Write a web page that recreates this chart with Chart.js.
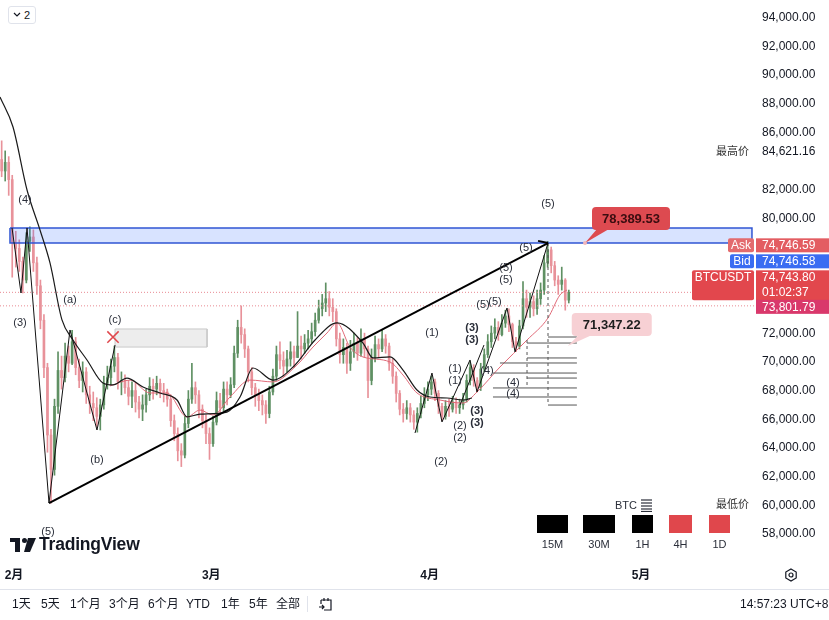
<!DOCTYPE html>
<html>
<head>
<meta charset="utf-8">
<script src="https://cdn.jsdelivr.net/npm/chart.js@4.4.1/dist/chart.umd.min.js"></script>
<style>
  html, body { margin: 0; padding: 0; background: #fff; }
  #wrap { position: relative; width: 829px; height: 620px; overflow: hidden;
          font-family: "Liberation Sans", "Noto Sans CJK SC", Arial, sans-serif; color: #131722; }
  #wrap canvas { position: absolute; left: 0; top: 0; }
  .abs { position: absolute; white-space: nowrap; }
  .tb { position: absolute; top: 597px; font-size: 12px; line-height: 14px; color: #131722; }
  .lg { position: absolute; top: 515px; height: 18px; }
  .lgt { position: absolute; top: 538px; font-size: 11px; line-height: 13px; color: #2a2e39; text-align: center; }
</style>
</head>
<body>
<div id="wrap">
  <canvas id="myChart" width="829" height="620"></canvas>

  <!-- top-left collapse button -->
  <div class="abs" style="left:8px;top:6px;width:26px;height:16px;border:1px solid #e0e3eb;border-radius:3px;background:#fff;">
    <svg class="abs" style="left:4px;top:5px" width="8" height="6"><polyline points="1,1 4,4 7,1" fill="none" stroke="#131722" stroke-width="1.2"/></svg>
    <span class="abs" style="left:15px;top:1px;font-size:11px;line-height:14px;">2</span>
  </div>

  <!-- logo -->
  <svg class="abs" style="left:10px;top:537px" width="28" height="16">
    <rect x="0" y="1" width="10" height="4" fill="#131722"/>
    <rect x="5" y="1" width="5" height="14" fill="#131722"/>
    <circle cx="14.5" cy="3.5" r="2.5" fill="#131722"/>
    <polygon points="18,1 26,1 20,15 14,15" fill="#131722"/>
  </svg>
  <div class="abs" style="left:39px;top:533px;font-size:17.5px;font-weight:bold;line-height:22px;letter-spacing:-0.2px;">TradingView</div>

  <!-- timeframe legend -->
  <div class="abs" style="left:615px;top:499px;font-size:11px;line-height:13px;color:#2a2e39;">BTC</div>
  <svg class="abs" style="left:641px;top:499px" width="11" height="13">
    <g stroke="#2a2e39" stroke-width="1.2"><line x1="0" y1="1" x2="11" y2="1"/><line x1="0" y1="4" x2="11" y2="4"/><line x1="0" y1="7" x2="11" y2="7"/><line x1="0" y1="10" x2="11" y2="10"/><line x1="0" y1="12.5" x2="11" y2="12.5"/></g>
  </svg>
  <div class="lg" style="left:537px;width:31px;background:#000;"></div>
  <div class="lg" style="left:583px;width:32px;background:#000;"></div>
  <div class="lg" style="left:632px;width:21px;background:#000;"></div>
  <div class="lg" style="left:669px;width:23px;background:#e0474c;"></div>
  <div class="lg" style="left:709px;width:21px;background:#e0474c;"></div>
  <div class="lgt" style="left:537px;width:31px;">15M</div>
  <div class="lgt" style="left:583px;width:32px;">30M</div>
  <div class="lgt" style="left:628px;width:29px;">1H</div>
  <div class="lgt" style="left:666px;width:29px;">4H</div>
  <div class="lgt" style="left:705px;width:29px;">1D</div>

  <!-- gear -->
  <svg class="abs" style="left:784px;top:568px" width="14" height="14">
    <polygon points="7,1 12.2,4 12.2,10 7,13 1.8,10 1.8,4" fill="none" stroke="#131722" stroke-width="1.2"/>
    <circle cx="7" cy="7" r="2" fill="none" stroke="#131722" stroke-width="1.2"/>
  </svg>

  <!-- bottom toolbar -->
  <div class="abs" style="left:0;top:589px;width:829px;height:1px;background:#e0e3eb;"></div>
  <span class="tb" style="left:12px">1天</span>
  <span class="tb" style="left:41px">5天</span>
  <span class="tb" style="left:70px">1个月</span>
  <span class="tb" style="left:109px">3个月</span>
  <span class="tb" style="left:148px">6个月</span>
  <span class="tb" style="left:186px">YTD</span>
  <span class="tb" style="left:221px">1年</span>
  <span class="tb" style="left:249px">5年</span>
  <span class="tb" style="left:276px">全部</span>
  <div class="abs" style="left:307px;top:596px;width:1px;height:16px;background:#e0e3eb;"></div>
  <svg class="abs" style="left:318px;top:596px" width="16" height="16">
    <path d="M3 4 H13 V14 H6" fill="none" stroke="#131722" stroke-width="1.2"/>
    <path d="M3 4 V8" fill="none" stroke="#131722" stroke-width="1.2"/>
    <line x1="6" y1="2" x2="6" y2="5" stroke="#131722" stroke-width="1.2"/>
    <line x1="10" y1="2" x2="10" y2="5" stroke="#131722" stroke-width="1.2"/>
    <path d="M1 11 H6 M4 9 L6 11 L4 13" fill="none" stroke="#131722" stroke-width="1.2"/>
  </svg>
  <span class="tb" style="left:740px">14:57:23 UTC+8</span>
</div>

<script>
// time axis: days counted from 1 Feb (day 0); 12h candles from 30 Jan
const firstCandleDay = -2;
const candleStep = 0.5;
const firstOpen = 84000;

const closes = [
  83200, 83800, 82600, 78200, 77800, 76900, 75600, 78300, 78600, 76800,
  75200, 72800, 69500, 64800, 62400, 66800, 69300, 68800, 70300, 69800,
  71300, 69500, 68600, 69200, 67600, 67000, 66700, 66100, 66900, 68400,
  68800, 69600, 70200, 68500, 68600, 68100, 67500, 67900, 67100, 66600,
  66900, 67600, 68200, 68000, 68400, 67900, 67800, 67300, 65800, 64900,
  63700, 63400, 65600, 67300, 68100, 67600, 66600, 65800, 64900, 64200,
  65700, 67200, 66700, 68000, 67600, 68300, 70500, 72300, 71800, 70800,
  69200, 68100, 67600, 67200, 66900, 66300, 67800, 68900, 70400, 70000,
  69600, 70100, 70600, 70200, 71000, 70800, 71200, 71500, 72000, 72800,
  73600, 74000, 74300, 73700, 73400, 71500, 70400, 70900, 69800, 70600,
  71200, 70500, 71500, 70800, 68600, 70200, 71100, 70800, 71500, 71000,
  69800, 68900, 67700, 66600, 66300, 66700, 66200, 65700, 66300, 67000,
  67600, 68000, 68500, 67700, 66800, 66100, 66800, 66600, 67100, 66700,
  66900, 67300, 68600, 69500, 68600, 68100, 69400, 70400, 71300, 71900,
  72300, 71800, 72600, 73100, 72500, 71300, 71000, 72400, 74300, 73700,
  74100, 73600, 74300, 74900, 76800, 77700, 76600, 75600, 75300, 75600,
  74200, 74744
];
const highs = [
  85300, 84600, 84200, 82900, 79000, 78400, 77200, 78900, 79300, 79100,
  77200, 75600, 73200, 69800, 65200, 67300, 70600, 70300, 71200, 71000,
  72100, 71600, 70100, 69900, 69500, 68200, 67800, 67400, 67300, 68900,
  69600, 70100, 71000, 70500, 69200, 69000, 68600, 68500, 68400, 67500,
  67600, 68000, 68800, 68700, 68900, 68700, 68400, 68000, 67600, 66200,
  65300, 64200, 66100, 67900, 69800, 68500, 67900, 66900, 66200, 65300,
  66100, 67800, 67700, 68500, 68500, 68800, 71000, 72800, 73800, 72200,
  71000, 69500, 68400, 68000, 67600, 67200, 68200, 69400, 71000, 71300,
  70600, 70700, 71300, 71000, 73400, 71700, 71800, 72100, 72600, 73300,
  74200, 74600, 75400, 74800, 74300, 73600, 71900, 71500, 71200, 71400,
  71900, 71600, 72200, 71900, 71000, 70800, 71700, 71500, 72100, 71800,
  71200, 70100, 69200, 67900, 67000, 67200, 67000, 66500, 66700, 67500,
  68100, 68500, 68900, 68700, 67900, 67000, 67200, 67300, 67500, 67400,
  67300, 67700, 69000, 69900, 69700, 68800, 69800, 70800, 71800, 72400,
  72900, 72700, 73200, 73500, 73600, 72600, 71600, 72800, 75500, 74900,
  74700, 74500, 74900, 75400, 77300, 78300, 77900, 76900, 75900, 76500,
  75700, 74900
];
const lows = [
  82800, 82500, 81500, 75800, 76500, 76200, 74700, 75400, 77600, 76200,
  74600, 72200, 68800, 63600, 60050, 62000, 66300, 68000, 68500, 69200,
  69700, 69000, 68100, 67800, 67000, 66300, 65800, 65400, 65150, 66600,
  68000, 68300, 69200, 68000, 67600, 67700, 66900, 66700, 66400, 66000,
  65800, 66400, 67200, 67300, 67600, 67400, 67100, 66800, 65400, 64400,
  63000, 62600, 63200, 65300, 67000, 67000, 66000, 65300, 64200, 63100,
  64000, 65500, 66200, 66500, 66900, 67400, 68100, 70200, 71200, 70200,
  68500, 67600, 66800, 66500, 66200, 65600, 66000, 67600, 68600, 69400,
  68900, 69200, 69600, 69500, 70200, 70100, 70500, 70800, 71200, 71700,
  72600, 73100, 73400, 73100, 72700, 71000, 69800, 69800, 69100, 69300,
  70200, 70000, 70300, 70200, 67400, 68300, 69900, 70200, 70600, 70500,
  69300, 68400, 67100, 66200, 65700, 65900, 65700, 65200, 65000, 66000,
  66700, 67200, 67600, 67200, 66300, 65800, 65900, 66100, 66400, 66300,
  66300, 66600, 67100, 68300, 68200, 67800, 67900, 69200, 70200, 70900,
  71500, 71400, 71700, 72300, 72000, 70900, 70600, 70800, 72200, 73000,
  73000, 73100, 73200, 73900, 74600, 76500, 76100, 75200, 74600, 74900,
  73500, 74000
];

// moving averages [day, price]
const maSlow = [
  [-1.99, 88355], [-0.14, 86265], [1.85, 81875], [3.69, 79090], [5.11, 76790],
  [6.81, 72820], [8.37, 71420], [10.36, 70030], [12.63, 68425], [14.05, 68290],
  [16.04, 68770], [18.31, 68150], [20.72, 67730], [23.14, 67240], [24.56, 66060],
  [26.4, 66260], [30.23, 66400], [32.08, 67450], [33.92, 69470], [36.76, 68630],
  [39.89, 69680], [42.73, 71420], [45.85, 72610], [49.54, 71210], [50.96, 70170],
  [53.37, 70240], [55.22, 69330], [57.2, 67940], [59.05, 67450], [61.46, 67380],
  [63.73, 67240], [65.0, 67380]
];
const maFast = [
  [13.63, 68220], [16.47, 68630], [19.3, 67730], [21.72, 67730], [24.56, 66060],
  [26.4, 66540], [28.25, 66190], [30.66, 67450], [33.5, 68630], [36.76, 68500],
  [40.17, 69680], [42.44, 70930], [44.43, 71910], [45.85, 72610], [47.69, 70930],
  [49.54, 70240], [53.37, 69890], [55.22, 68980], [57.2, 67730], [60.47, 67240],
  [63.73, 67030], [65.72, 67800], [68.98, 69540], [72.82, 71420], [75.8, 72960],
  [77.5, 74560], [78.5, 74910]
];

// drawings
const trendLine = [[4.97, 60060], [75.8, 78180]];
const trendHook = [[74.38, 78330], [75.8, 78180]];
const waveLeft = [[-0.28, 79230], [0.99, 74700], [1.85, 79230], [4.97, 60060], [7.95, 72120], [11.78, 65150], [14.34, 71070]];
const waveRight = [[56.92, 64940], [59.33, 69120], [60.75, 65710], [64.73, 70030], [65.72, 67800], [69.98, 73650], [71.12, 70590], [75.8, 78180]];
const waveRight2 = [[63.31, 66890], [66.71, 71070]];
const zoneBlue = { from: -0.57, to: 104.75, low: 78180, high: 79230 };
const zoneGray = { from: 14.34, to: 27.4, low: 70930, high: 72190 };
const crossMark = [14.05, 71630];
// short level lines [fromDay, toDay, price]
const levels = [
  [75.8, 79.9, 71630], [72.82, 79.9, 71210], [72.82, 79.9, 70170], [68.98, 79.9, 69820],
  [67.99, 79.9, 69120], [72.82, 79.9, 68770], [67.99, 79.9, 68080], [67.99, 79.9, 67450],
  [75.8, 79.9, 66890]
];
const vDashes = [[75.8, 78180, 66890], [72.82, 71420, 68080]];

// [day, price, text, bold]
const waveLabels = [
  [1.56, 81180, '(4)'], [0.85, 72610, '(3)'], [7.95, 74210, '(a)'], [14.34, 72820, '(c)'],
  [11.78, 63060, '(b)'], [4.83, 58040, '(5)'],
  [59.33, 71910, '(1)'], [60.61, 62920, '(2)'],
  [62.6, 69400, '(1)'], [62.6, 68560, '(1)'],
  [63.31, 65430, '(2)'], [63.31, 64590, '(2)'],
  [65.72, 66470, '(3)', 1], [65.72, 65640, '(3)', 1],
  [65.01, 72260, '(3)', 1], [65.01, 71420, '(3)', 1],
  [67.14, 69260, '(4)'], [66.57, 73860, '(5)'], [68.28, 74070, '(5)'],
  [69.84, 76440, '(5)'], [69.84, 75600, '(5)'], [72.67, 77830, '(5)'], [75.8, 80900, '(5)'],
  [70.83, 68420, '(4)'], [70.83, 67660, '(4)']
];

const lastPrice = 74743.80;
const askPrice = '74,746.59';
const bidPrice = '74,746.58';
const countdown = '01:02:37';
const lowLine = 73801.79;
const highMark = 84621.16;
const lowMark = 60000;
const calloutHigh = { day: 81.05, price: 78180, text: '78,389.53' };
const calloutLow = { day: 78.6, price: 71000, text: '71,347.22' };

const monthTicks = [0, 28, 59, 89];
const monthLabels = ['2月', '3月', '4月', '5月'];
const priceTicks = [58000, 60000, 62000, 64000, 66000, 68000, 70000, 72000, 80000, 82000, 86000, 88000, 90000, 92000, 94000];

const xMin = -1.987, xMax = 105.18;
const yMin = 56091, yMax = 95115;

const FONT = '"Liberation Sans", "Noto Sans CJK SC", Arial, sans-serif';
const upColor = '#5f9063';
const downColor = '#e8929a';

// candles
let wicks = [], bodies = [], colors = [];
let prev = firstOpen;
closes.forEach((c, i) => {
  const d = firstCandleDay + i * candleStep + candleStep / 2;
  wicks.push({ x: d, y: [lows[i], highs[i]] });
  bodies.push({ x: d, y: [prev, c] });
  colors.push(c >= prev ? upColor : downColor);
  prev = c;
});

const pts = arr => arr.map(p => ({ x: p[0], y: p[1] }));
const box = z => [
  { x: z.from, y: z.high }, { x: z.to, y: z.high }, { x: z.to, y: z.low },
  { x: z.from, y: z.low }, { x: z.from, y: z.high }
];
let levelData = [];
levels.forEach(l => {
  levelData.push({ x: l[0], y: l[2] }, { x: l[1], y: l[2] }, { x: l[1], y: null });
});
let vData = [];
vDashes.forEach(v => {
  vData.push({ x: v[0], y: v[1] }, { x: v[0], y: v[2] }, { x: v[0] + 0.01, y: null });
});

const line = (data, color, width, order, extra) => Object.assign({
  type: 'line', data, borderColor: color, borderWidth: width, pointRadius: 0,
  fill: false, order, spanGaps: false
}, extra || {});

const datasets = [
  line(pts(trendLine), '#000', 2, 1),
  line(pts(trendHook), '#000', 2, 1),
  line(pts(waveLeft), '#111', 1, 2),
  line(pts(waveRight), '#111', 1, 2),
  line(pts(waveRight2), '#111', 1, 2),
  line(levelData, '#555', 1, 3),
  line(vData, '#555', 1, 3, { borderDash: [3, 3] }),
  line([{ x: xMin, y: lastPrice }, { x: xMax, y: lastPrice }], '#e88a92', 1, 4, { borderDash: [1, 2] }),
  line([{ x: xMin, y: lowLine }, { x: xMax, y: lowLine }], '#e88a92', 1, 4, { borderDash: [1, 2] }),
  line(pts(maSlow), '#1a1a1a', 1.2, 5, { cubicInterpolationMode: 'monotone' }),
  line(pts(maFast), '#e06a78', 1, 5, { cubicInterpolationMode: 'monotone' }),
  line(box(zoneBlue), '#3056d3', 1.5, 6, { fill: 'shape', backgroundColor: 'rgba(41,98,255,0.18)' }),
  line(box(zoneGray), '#c9c9c9', 1, 6, { fill: 'shape', backgroundColor: 'rgba(225,225,225,0.6)' }),
  line([{ x: crossMark[0], y: crossMark[1] }], '#e0474c', 1.5, 2, {
    showLine: false, pointRadius: 8, pointStyle: 'crossRot', pointBorderColor: '#e0474c', pointBorderWidth: 1.5
  }),
  { type: 'bar', data: wicks, backgroundColor: colors, barThickness: 1, grouped: false, order: 10 },
  { type: 'bar', data: bodies, backgroundColor: colors, barThickness: 2, grouped: false, minBarLength: 1, order: 9 }
];

function roundRect(ctx, x, y, w, h, r) {
  ctx.beginPath();
  ctx.moveTo(x + r, y);
  ctx.arcTo(x + w, y, x + w, y + h, r);
  ctx.arcTo(x + w, y + h, x, y + h, r);
  ctx.arcTo(x, y + h, x, y, r);
  ctx.arcTo(x, y, x + w, y, r);
  ctx.closePath();
}

const overlay = {
  id: 'overlay',
  afterDatasetsDraw(chart) {
    const { ctx, scales: { x, y } } = chart;
    ctx.save();
    ctx.fillStyle = '#2a2e39';
    ctx.textAlign = 'center';
    ctx.textBaseline = 'middle';
    waveLabels.forEach(l => {
      ctx.font = (l[3] ? 'bold ' : '') + '11px ' + FONT;
      ctx.fillText(l[2], x.getPixelForValue(l[0]), y.getPixelForValue(l[1]));
    });

    // callout 78,389.53
    let px = x.getPixelForValue(calloutHigh.day), py = y.getPixelForValue(calloutHigh.price);
    ctx.fillStyle = '#dd4a50';
    ctx.beginPath();
    ctx.moveTo(px, py); ctx.lineTo(px + 12, py - 14); ctx.lineTo(px + 24, py - 14); ctx.closePath(); ctx.fill();
    roundRect(ctx, px + 7, py - 36, 78, 23, 4); ctx.fill();
    ctx.fillStyle = '#f2b8bc';
    ctx.beginPath(); ctx.arc(px, py, 2, 0, Math.PI * 2); ctx.fill();
    ctx.fillStyle = '#3a0d10';
    ctx.font = 'bold 13px ' + FONT;
    ctx.fillText(calloutHigh.text, px + 46, py - 24);

    // callout 71,347.22
    px = x.getPixelForValue(calloutLow.day); py = y.getPixelForValue(calloutLow.price);
    ctx.fillStyle = '#f7d0d4';
    ctx.beginPath();
    ctx.moveTo(px, py); ctx.lineTo(px + 10, py - 10); ctx.lineTo(px + 22, py - 10); ctx.closePath(); ctx.fill();
    roundRect(ctx, px + 4, py - 33, 80, 23, 4); ctx.fill();
    ctx.fillStyle = '#1e1e1e';
    ctx.fillText(calloutLow.text, px + 44, py - 21);
    ctx.restore();
  },
  afterDraw(chart) {
    const { ctx, scales: { y } } = chart;
    const right = chart.chartArea.right;
    ctx.save();
    ctx.textBaseline = 'middle';
    ctx.font = '12px ' + FONT;
    const cy = y.getPixelForValue(lastPrice);
    const tag = (top, h, label, labelW, labelBg, priceBg, lines) => {
      if (label) {
        ctx.fillStyle = labelBg;
        roundRect(ctx, right - labelW - 1, top, labelW, h, 2); ctx.fill();
        ctx.fillStyle = '#fff';
        ctx.textAlign = 'center';
        ctx.fillText(label, right - 1 - labelW / 2, top + 7.5);
      }
      ctx.fillStyle = priceBg;
      ctx.fillRect(right + 1, top, 74, h);
      ctx.fillStyle = '#fff';
      ctx.textAlign = 'left';
      lines.forEach((t, i) => ctx.fillText(t, right + 7, top + 7.5 + i * 15));
    };
    tag(cy - 54, 14, 'Ask', 26, '#e36b6e', '#e35d62', [askPrice]);
    tag(cy - 38, 14, 'Bid', 24, '#3a6cf2', '#3a6cf2', [bidPrice]);
    tag(cy - 22, 30, 'BTCUSDT', 62, '#e2474d', '#e2474d', [lastPrice.toLocaleString('en-US', { minimumFractionDigits: 2 }), countdown]);
    const ly = y.getPixelForValue(lowLine);
    tag(ly - 6, 14, null, 0, null, '#d9386b', [lowLine.toLocaleString('en-US', { minimumFractionDigits: 2 })]);

    // high / low markers
    ctx.textAlign = 'left';
    const hy = y.getPixelForValue(highMark) + 1.5;
    ctx.fillStyle = '#fff';
    ctx.fillRect(right + 1, hy - 8, 74, 16);
    ctx.fillStyle = '#131722';
    ctx.fillText(highMark.toLocaleString('en-US', { minimumFractionDigits: 2 }), right + 7, hy);
    ctx.font = '11px ' + FONT;
    ctx.fillStyle = '#333';
    ctx.fillText('最高价', right - 39, hy);
    ctx.fillText('最低价', right - 39, y.getPixelForValue(lowMark) + 1.5);
    ctx.restore();
  }
};

new Chart(document.getElementById('myChart'), {
  type: 'bar',
  data: { datasets },
  options: {
    responsive: false,
    animation: false,
    layout: { autoPadding: false, padding: { left: 0, right: 0, top: 0, bottom: 30 } },
    plugins: { legend: { display: false }, tooltip: { enabled: false } },
    scales: {
      x: {
        type: 'linear', min: xMin, max: xMax, offset: false,
        grid: { display: false, drawTicks: false }, border: { display: false },
        afterBuildTicks: a => { a.ticks = monthTicks.map(v => ({ value: v })); },
        afterFit: a => { a.height = 30; a.paddingLeft = 0; a.paddingRight = 0; },
        ticks: {
          autoSkip: false, maxRotation: 0, padding: 8, color: '#131722',
          font: { size: 12, weight: 'bold', family: FONT },
          callback: v => monthLabels[monthTicks.indexOf(v)]
        }
      },
      y: {
        type: 'linear', position: 'right', min: yMin, max: yMax,
        grid: { display: false, drawTicks: false }, border: { display: false },
        afterBuildTicks: a => { a.ticks = priceTicks.map(v => ({ value: v })); },
        afterFit: a => { a.width = 74; a.paddingTop = 0; a.paddingBottom = 0; },
        ticks: {
          padding: 7, labelOffset: 1.5, color: '#131722', font: { size: 12, family: FONT },
          callback: v => v.toLocaleString('en-US', { minimumFractionDigits: 2 })
        }
      }
    }
  },
  plugins: [overlay]
});
</script>
</body>
</html>
